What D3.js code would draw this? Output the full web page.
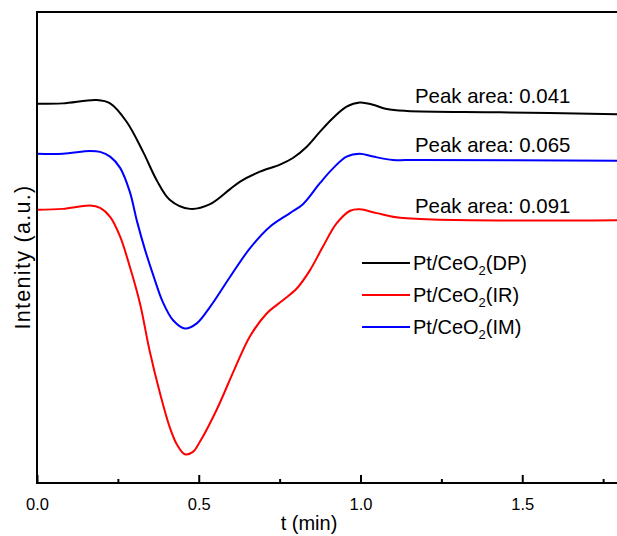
<!DOCTYPE html>
<html>
<head>
<meta charset="utf-8">
<script src="https://cdn.jsdelivr.net/npm/d3@7"></script>
<style>
  html, body { margin: 0; padding: 0; background: #fff; }
  svg { display: block; }
  text { font-family: Arial, "Liberation Sans", sans-serif; fill: #000; }
</style>
</head>
<body>
<svg id="chart" width="617" height="536"></svg>
<script>
// Time axis (min) and intensity traces (a.u.), one array per sample
const tDP = [0, 0.080, 0.185, 0.226, 0.277, 0.328, 0.370, 0.411, 0.473, 0.535, 0.597, 0.628, 0.689, 0.751, 0.791, 0.834, 0.875, 0.915, 0.957, 0.998, 1.039, 1.081, 1.143, 1.431, 1.793];
const yDP = [80.5, 80.6, 81.3, 80.6, 76.7, 70.3, 64.3, 60.1, 58.2, 59.2, 62.4, 64.0, 66.1, 67.6, 69.0, 71.4, 74.6, 77.5, 79.9, 80.8, 80.3, 79.4, 79.0, 78.7, 78.3];

const tIM = [0, 0.080, 0.164, 0.195, 0.226, 0.257, 0.287, 0.309, 0.334, 0.359, 0.389, 0.420, 0.457, 0.494, 0.535, 0.597, 0.658, 0.720, 0.782, 0.822, 0.875, 0.915, 0.957, 0.998, 1.039, 1.100, 1.175, 1.793];
const yIM = [69.9, 69.9, 70.5, 70.3, 69.3, 66.9, 61.8, 55.6, 49.5, 44.2, 38.4, 34.6, 32.8, 33.9, 37.4, 43.8, 49.8, 54.4, 57.3, 59.2, 63.7, 66.8, 69.3, 69.9, 69.3, 68.6, 68.6, 68.4];

const tIR = [0, 0.080, 0.164, 0.195, 0.226, 0.257, 0.287, 0.318, 0.349, 0.380, 0.411, 0.433, 0.457, 0.482, 0.504, 0.555, 0.612, 0.658, 0.710, 0.760, 0.803, 0.844, 0.884, 0.926, 0.968, 0.998, 1.050, 1.122, 1.793];
const yIR = [58.0, 58.2, 58.9, 58.4, 56.5, 52.3, 45.9, 38.2, 27.8, 19.1, 11.7, 8.1, 6.1, 6.6, 8.8, 15.5, 24.4, 31.1, 36.0, 38.8, 41.3, 45.2, 50.2, 55.1, 57.8, 58.1, 57.3, 56.3, 55.8];

const seriesNames = ["Pt/CeO", "Pt/CeO", "Pt/CeO"];
const seriesTags = ["(DP)", "(IR)", "(IM)"];
const seriesColors = ["#000000", "#ff0000", "#0000ff"];
const peakLabels = ["Peak area: 0.041", "Peak area: 0.065", "Peak area: 0.091"];
const xTickMajor = [0, 0.5, 1.0, 1.5];
const xTickMinor = [0.25, 0.75, 1.25, 1.75];

const svg = d3.select("#chart");
const plotLeft = 37, plotTop = 12, plotBottom = 483;

const x = d3.scaleLinear().domain([0, 1.8]).range([plotLeft, plotLeft + 1.8 * 323.5]);
const y = d3.scaleLinear().domain([0, 100]).range([plotBottom, plotTop]);

const series = [
  { t: tDP, v: yDP, color: seriesColors[0] },
  { t: tIR, v: yIR, color: seriesColors[1] },
  { t: tIM, v: yIM, color: seriesColors[2] }
];

const line = d3.line()
  .x(d => x(d[0]))
  .y(d => y(d[1]))
  .curve(d3.curveCatmullRom.alpha(0.5));

// traces
[series[0], series[2], series[1]].forEach(s => {
  svg.append("path")
    .datum(s.t.map((t, i) => [t, s.v[i]]))
    .attr("fill", "none")
    .attr("stroke", s.color)
    .attr("stroke-width", 2)
    .attr("stroke-linejoin", "round")
    .attr("d", line);
});

// frame
svg.append("rect")
  .attr("x", x(0)).attr("y", plotTop)
  .attr("width", x(1.8) - x(0)).attr("height", plotBottom - plotTop)
  .attr("fill", "none").attr("stroke", "#000").attr("stroke-width", 2);

// bottom axis: inward ticks
const xAxis = d3.axisBottom(x).tickValues(xTickMajor).tickFormat(d3.format(".1f"))
  .tickSizeInner(-8).tickSizeOuter(0).tickPadding(15);
const gx = svg.append("g").attr("transform", `translate(0,${plotBottom})`).call(xAxis);
gx.select(".domain").remove();
gx.selectAll(".tick line").attr("stroke", "#000").attr("stroke-width", 2);
gx.selectAll(".tick text").attr("font-size", 16.5).attr("font-family", "Arial, 'Liberation Sans', sans-serif").attr("dy", "0.71em");

const xMinor = d3.axisBottom(x).tickValues(xTickMinor).tickFormat("").tickSizeInner(-4).tickSizeOuter(0);
const gxm = svg.append("g").attr("transform", `translate(0,${plotBottom})`).call(xMinor);
gxm.select(".domain").remove();
gxm.selectAll(".tick line").attr("stroke", "#000").attr("stroke-width", 2);

// axis titles
svg.append("text")
  .attr("x", 309).attr("y", 530)
  .attr("text-anchor", "middle").attr("font-size", 20)
  .text("t (min)");

svg.append("text")
  .attr("transform", "translate(30,257) rotate(-90)")
  .attr("text-anchor", "middle").attr("font-size", 21.5)
  .attr("letter-spacing", 1.3)
  .text("Intenity (a.u.)");

// peak-area annotations
const peakY = [103, 152, 213];
peakLabels.forEach((s, i) => {
  svg.append("text").attr("x", 415).attr("y", peakY[i]).attr("font-size", 20.4).text(s);
});

// legend
const legY = [263, 295, 327];
series.forEach((s, i) => {
  svg.append("line")
    .attr("x1", 362).attr("x2", 410)
    .attr("y1", legY[i]).attr("y2", legY[i])
    .attr("stroke", s.color).attr("stroke-width", 2);
  const txt = svg.append("text").attr("x", 413).attr("y", legY[i] + 7).attr("font-size", 20);
  txt.append("tspan").text(seriesNames[i]);
  txt.append("tspan").attr("font-size", 13).attr("dy", 5).text("2");
  txt.append("tspan").attr("dy", -5).text(seriesTags[i]);
});
</script>
</body>
</html>
